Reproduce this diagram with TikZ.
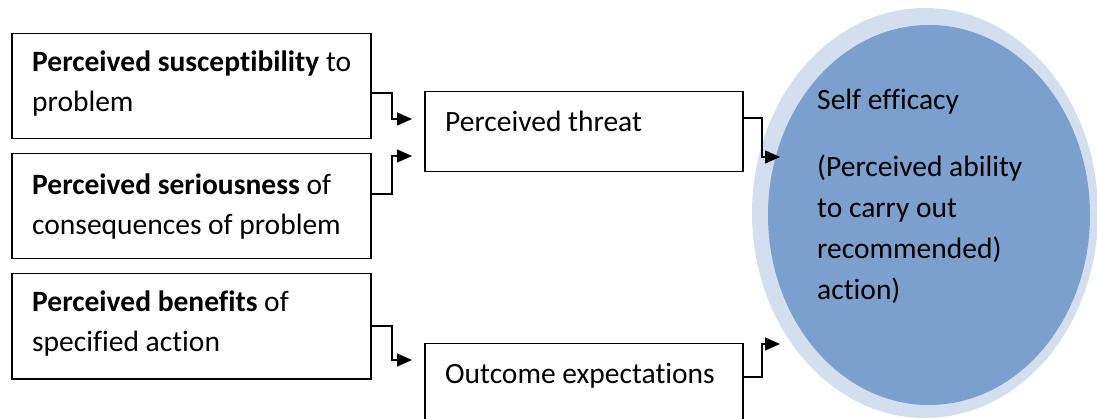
\documentclass[tikz,border=0pt]{standalone}
\usepackage{fontspec}
\setmainfont[Ligatures={NoCommon}]{Carlito}
\usetikzlibrary{shapes.geometric,arrows.meta}
\definecolor{ringblue}{HTML}{D3DFEE}
\definecolor{fillblue}{HTML}{7BA0CD}
\tikzset{
  box/.style={draw=black,line width=1.5pt,rectangle,inner sep=0pt,anchor=north west},
  txt/.style={anchor=base west,inner sep=0pt,font=\fontsize{29.5}{40}\selectfont,align=left},
  conn/.style={draw=black,line width=1.5pt,-{Triangle[length=15pt,width=13pt]}},
}
\begin{document}
\begin{tikzpicture}[x=1pt,y=-1pt]
\useasboundingbox (0,0) rectangle (1097,419);
\clip (0,0) rectangle (1097,419);
% ellipse
\node[ellipse,fill=ringblue,minimum width=346pt,minimum height=410pt,inner sep=0pt] (eo) at (925,213) {};
\node[ellipse,fill=fillblue,minimum width=322pt,minimum height=380pt,inner sep=0pt] (ei) at (929,215) {};
% boxes
\node[box,minimum width=359pt,minimum height=105pt] (b1) at (11,33) {};
\node[box,minimum width=359pt,minimum height=105pt] (b2) at (11,153) {};
\node[box,minimum width=359pt,minimum height=105pt] (b3) at (11,273) {};
\node[box,minimum width=318pt,minimum height=80pt] (th) at (424,91) {};
\node[box,minimum width=318pt,minimum height=90pt] (oe) at (424,343) {};
% texts (anchor = baseline of last line)
\node[txt] (t1) at (32,112) {\textbf{Perceived susceptibility} to\\problem};
\node[txt] (t2) at (32,235) {\textbf{Perceived seriousness} of\\consequences of problem};
\node[txt] (t3) at (32,352) {\textbf{Perceived benefits} of\\specified action};
\node[txt] (t4) at (445,132) {Perceived threat};
\node[txt] (t5) at (445,383) {Outcome expectations};
\node[txt] (t6) at (817,110) {Self efficacy};
\node[txt,font=\fontsize{29.5}{41.3}\selectfont] (t7) at (817,300) {(Perceived ability\\to carry out\\recommended)\\action)};
% arrow end points
\coordinate (a1) at (412,119);
\coordinate (a2) at (412,156);
\coordinate (a3) at (412,360);
\coordinate (a4) at (780,157);
\coordinate (a5) at (780,344);
% connectors
\draw[conn] (b1.east |- 0,93) -| (392,119) -- (a1);
\draw[conn] (b2.east |- 0,194) -| (392,156) -- (a2);
\draw[conn] (b3.east |- 0,326) -| (392,360) -- (a3);
\draw[conn] (th.east |- 0,118) -| (762,157) -- (a4);
\draw[conn] (oe.east |- 0,377) -| (762,344) -- (a5);
\end{tikzpicture}
\end{document}
